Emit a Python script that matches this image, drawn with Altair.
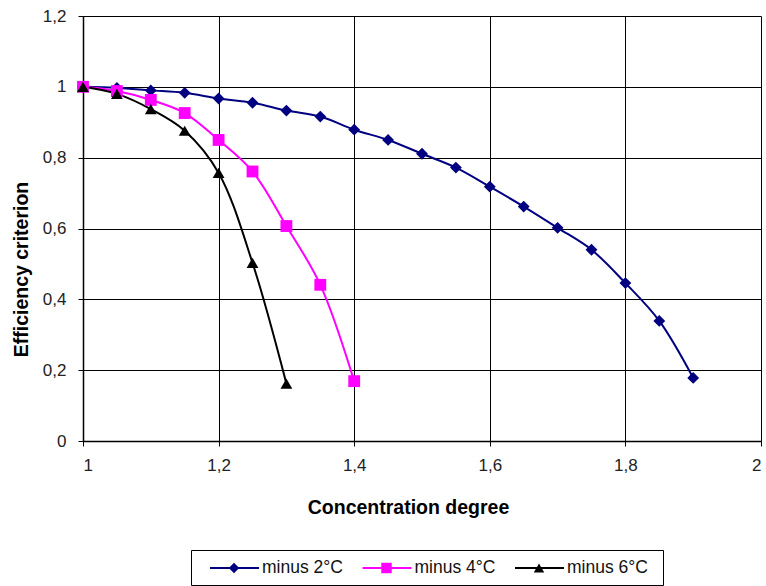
import altair as alt
import pandas as pd

x_blue = [1.0, 1.05, 1.1, 1.15, 1.2, 1.25, 1.3, 1.35, 1.4, 1.45, 1.5, 1.55, 1.6, 1.65, 1.7, 1.75, 1.8, 1.85, 1.9]
y_blue = [1.0, 0.997, 0.99, 0.983, 0.967, 0.955, 0.933, 0.916, 0.879, 0.85, 0.811, 0.772, 0.718, 0.662, 0.602, 0.540, 0.446, 0.339, 0.178]
x_pink = [1.0, 1.05, 1.1, 1.15, 1.2, 1.25, 1.3, 1.35, 1.4]
y_pink = [1.0, 0.988, 0.963, 0.926, 0.85, 0.761, 0.607, 0.441, 0.169]
x_black = [1.0, 1.05, 1.1, 1.15, 1.2, 1.25, 1.3]
y_black = [1.0, 0.98, 0.937, 0.876, 0.757, 0.503, 0.162]

series_names = ["minus 2°C", "minus 4°C", "minus 6°C"]
series_colors = ["#000080", "#FF00FF", "#000000"]
series_shapes = ["diamond", "square", "triangle-up"]

x_ticks = [1, 1.2, 1.4, 1.6, 1.8, 2]
y_ticks = [0, 0.2, 0.4, 0.6, 0.8, 1.0, 1.2]

rows = []
for name, xs, ys in zip(series_names, [x_blue, x_pink, x_black], [y_blue, y_pink, y_black]):
    for i, (a, b) in enumerate(zip(xs, ys)):
        rows.append({"series": name, "x": a, "y": b, "order": i})
df = pd.DataFrame(rows)

FONT = "Liberation Sans"
label_expr = "replace(format(datum.value, '~g'), '.', ',')"

color_scale = alt.Scale(domain=series_names, range=series_colors)
shape_scale = alt.Scale(domain=series_names, range=series_shapes)

xenc = alt.X("x:Q", scale=alt.Scale(domain=[1, 2], nice=False),
             axis=alt.Axis(values=x_ticks, labelExpr=label_expr, title="Concentration degree",
                           titleX=325, titleY=72, titleBaseline="alphabetic",
                           tickSize=5, labelPadding=11, grid=True))
yenc = alt.Y("y:Q", scale=alt.Scale(domain=[0, 1.2], nice=False),
             axis=alt.Axis(values=y_ticks, labelExpr=label_expr, title="Efficiency criterion",
                           titleX=-56, titleY=253, titleBaseline="alphabetic",
                           tickSize=5, labelPadding=12, grid=True))

base = alt.Chart(df)
lines = base.mark_line(interpolate="catmull-rom", strokeWidth=2).encode(
    x=xenc, y=yenc,
    color=alt.Color("series:N", scale=color_scale, legend=None),
    detail="series:N",
    order="order:Q",
)
points = base.mark_point(filled=True, size=140, opacity=1).encode(
    x="x:Q", y="y:Q",
    color=alt.Color("series:N", scale=color_scale, legend=None),
    shape=alt.Shape("series:N", scale=shape_scale, legend=None),
)

main = alt.layer(lines, points).properties(width=678, height=425)

# custom legend
leg_df = pd.DataFrame({"idx": [0, 1, 2], "series": series_names})
lx = alt.X("idx:Q", scale=alt.Scale(domain=[0, 2], range=[19, 324]), axis=None)
leg_base = alt.Chart(leg_df)
leg_rule = leg_base.mark_rule(strokeWidth=2, x2Offset=49).encode(
    x=lx, x2="idx:Q", y=alt.value(18),
    color=alt.Color("series:N", scale=color_scale, legend=None),
)
leg_pt = leg_base.mark_point(filled=True, size=110, opacity=1, xOffset=24).encode(
    x=lx, y=alt.value(18),
    color=alt.Color("series:N", scale=color_scale, legend=None),
    shape=alt.Shape("series:N", scale=shape_scale, legend=None),
)
leg_txt = leg_base.mark_text(align="left", baseline="middle", xOffset=52, fontSize=17.5,
                             font=FONT, color="#111").encode(
    x=lx, y=alt.value(18), text="series:N",
)
legend = alt.layer(leg_rule, leg_pt, leg_txt).properties(
    width=472, height=35, view=alt.ViewBackground(stroke="#000", strokeWidth=1)
)
spacer = alt.Chart(pd.DataFrame({"a": [0]})).mark_point(opacity=0).encode(
    x=alt.value(0), y=alt.value(0)
).properties(width=107, height=35)

chart = alt.vconcat(
    main,
    alt.hconcat(spacer, legend, spacing=0),
    spacing=30,
).properties(
    padding={"left": 11, "top": 7, "right": 0, "bottom": 0}
).configure(background="white").configure_view(stroke=None).configure_axis(
    labelFont=FONT, titleFont=FONT, labelFontSize=17, titleFontSize=19.5,
    labelColor="#222", titleColor="#000", titleFontWeight="bold",
    gridColor="#000", gridOpacity=1, gridWidth=1,
    domainColor="#000", domainWidth=1.5, tickColor="#000", tickWidth=1,
)

chart.save("out.html", embed_options={"renderer": "svg", "actions": False})
